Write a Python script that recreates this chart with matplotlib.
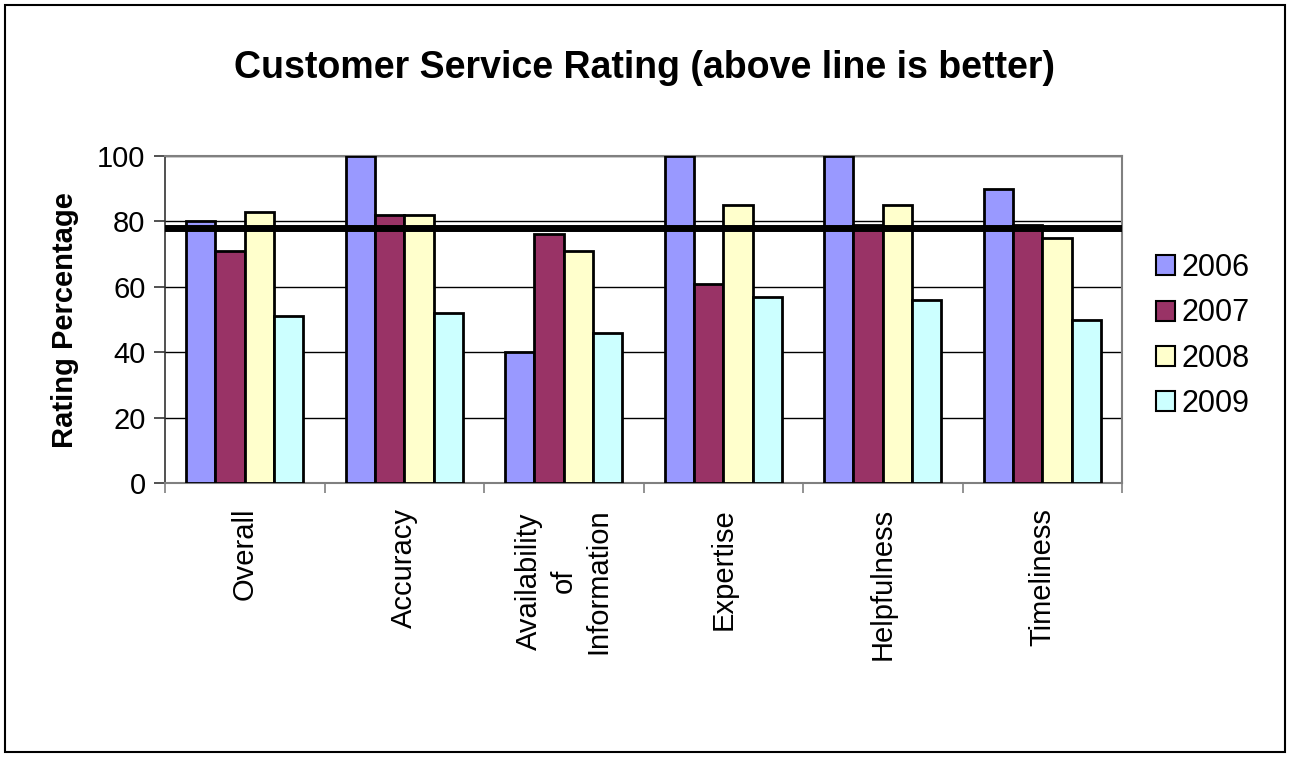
import matplotlib
matplotlib.use("Agg")
import matplotlib.pyplot as plt
from matplotlib.patches import Rectangle, Patch
import numpy as np

categories = ["Overall", "Accuracy", "Availability\nof\nInformation", "Expertise", "Helpfulness", "Timeliness"]
years = ["2006", "2007", "2008", "2009"]
v2006 = [80, 100, 40, 100, 100, 90]
v2007 = [71, 82, 76, 61, 79, 79]
v2008 = [83, 82, 71, 85, 85, 75]
v2009 = [51, 52, 46, 57, 56, 50]
series = [v2006, v2007, v2008, v2009]
colors = ["#9999FF", "#993366", "#FFFFCC", "#CCFFFF"]
target = 78
yticks = [0, 20, 40, 60, 80, 100]

plt.rcParams['font.family'] = ['Liberation Sans', 'DejaVu Sans']

fig = plt.figure(figsize=(12.9, 7.57), dpi=100)
W, H = 1290, 757
ax = fig.add_axes([165 / W, 1 - 483 / H, (1122 - 165) / W, (483 - 156) / H])

x = np.arange(len(categories))
bw = 0.184
for j, (vals, c, yr) in enumerate(zip(series, colors, years)):
    ax.bar(x + (j - 1.5) * bw, vals, width=bw, color=c, edgecolor="black",
           linewidth=2.0, zorder=3, label=yr)

ax.axhline(target, color="black", lw=5.0, zorder=5)

ax.set_xlim(-0.5, len(categories) - 0.5)
ax.set_ylim(0, 100)
ax.set_yticks(yticks)
ax.set_yticklabels([str(t) for t in yticks], fontsize=21)
ax.yaxis.grid(True, color="black", lw=1.0, zorder=0)
ax.set_axisbelow(True)

ax.set_xticks(x)
ax.set_xticklabels(categories, rotation=90, fontsize=21, va="top", ha="center",
                   multialignment="center", linespacing=1.3)
ax.tick_params(axis="x", which="major", length=0, pad=18)
ax.set_xticks(np.arange(-0.5, len(categories), 1.0), minor=True)
ax.tick_params(axis="x", which="minor", length=7, color="#808080", width=1.2, direction="out")
ax.tick_params(axis="y", which="major", length=8, color="#333333", width=1.2, pad=6)

for s in ["top", "right", "bottom"]:
    ax.spines[s].set_color("#808080")
    ax.spines[s].set_linewidth(1.5)
ax.spines["left"].set_color("#333333")
ax.spines["left"].set_linewidth(1.2)

fig.text(645 / W, 1 - 68 / H, "Customer Service Rating (above line is better)",
         ha="center", va="center", fontsize=27, fontweight="bold")
fig.text(65 / W, 1 - 320 / H, "Rating Percentage", rotation=90, ha="center",
         va="center", fontsize=21, fontweight="bold")

handles = [Patch(facecolor=c, edgecolor="black", linewidth=1.5) for c in colors]
fig.legend(handles, years, loc="center left", bbox_to_anchor=(1141 / W, 1 - 336 / H),
           frameon=False, fontsize=22, handlelength=0.62, handleheight=0.62,
           handletextpad=0.2, labelspacing=0.5, borderpad=0)

fig.patches.append(Rectangle((5 / W, 5 / H), 1 - 10 / W, 1 - 10 / H, transform=fig.transFigure,
                             fill=False, edgecolor="black", lw=1.5))

fig.savefig("out.png", dpi=100)
